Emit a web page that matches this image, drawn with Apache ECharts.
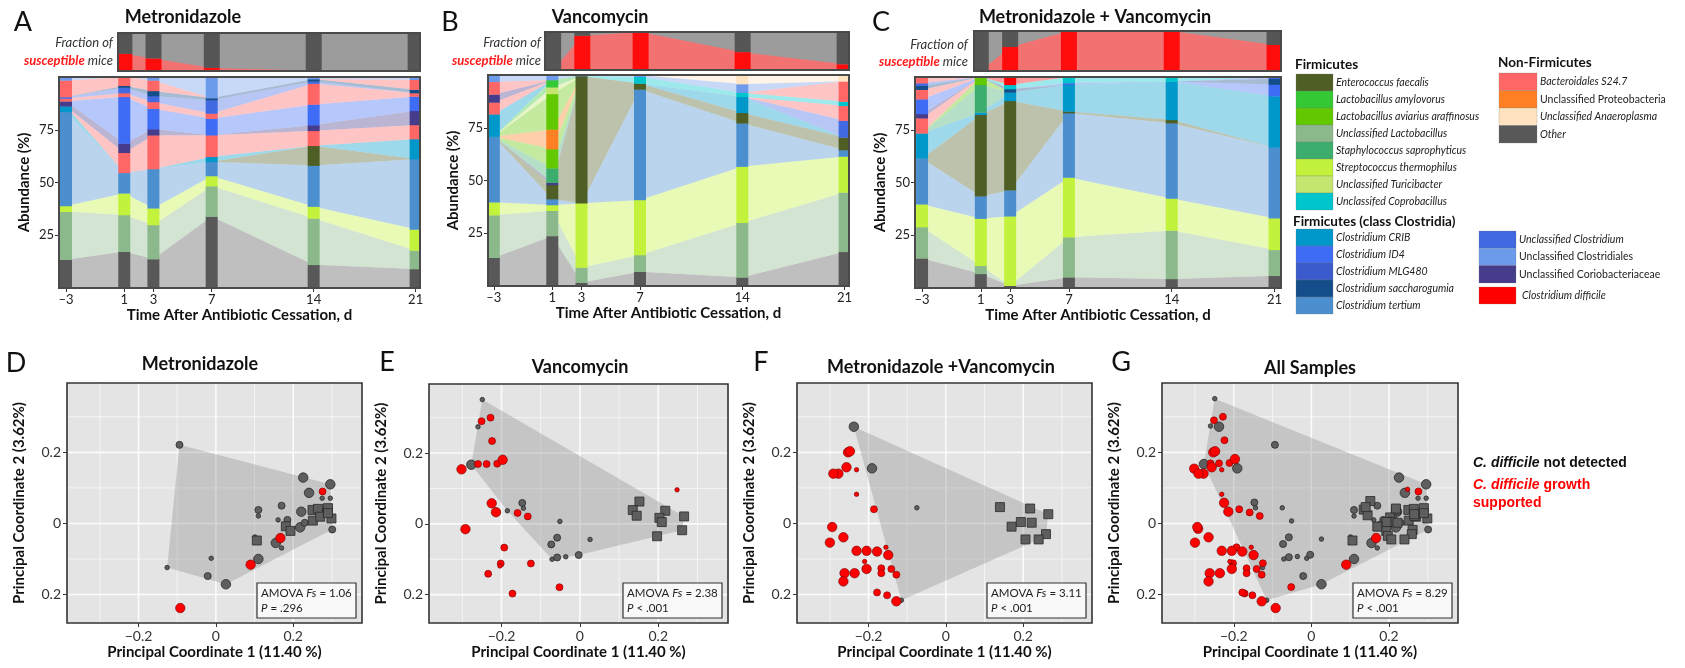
<!DOCTYPE html>
<html><head><meta charset="utf-8">
<script src="https://cdn.jsdelivr.net/npm/echarts@6/dist/echarts.min.js"></script>
<style>html,body{margin:0;padding:0;background:#fff}#c{width:1685px;height:668px}</style>
</head><body><div id="c"></div><script>
// ---------------- DATA ----------------
const days = [-3, 1, 3, 7, 14, 21];
const fracDays = [1, 3, 7, 14, 21];
const fracA = [0.45, 0.33, 0.08, 0.01, 0];
const fracB = [0, 0.9, 1.0, 0.47, 0.15];
const fracC = [0, 0.6, 1.0, 1.0, 0.65];

// Panel A (Metronidazole): layers bottom -> top, values at days
const layersA = ['Other','Unclassified Lactobacillus','Streptococcus thermophilus','Clostridium tertium','Enterococcus faecalis','Clostridium CRIB','Bacteroidales S24.7','Unclassified Coriobacteriaceae','Clostridium ID4','Bacteroidales S24.7#2','Unclassified Clostridium','Clostridium saccharogumia','Bacteroidales S24.7#3','Unclassified Clostridiales'];
const valuesA = [
  [13.4, 17.3, 13.7, 33.9, 11, 9],
  [22.8, 17.3, 16.2, 14.4, 22, 8.8],
  [2.7, 10.3, 7.9, 4.8, 5.6, 10],
  [44.6, 9.7, 18.6, 6.7, 19.4, 33.3],
  [0, 0, 0, 0, 9.4, 0],
  [2.6, 0, 0, 2.4, 0, 9.5],
  [0, 9.5, 16, 10.2, 7.1, 6.7],
  [2.4, 4.4, 2.9, 0, 2.7, 6.7],
  [0, 22.1, 9.7, 7.9, 9.8, 6.8],
  [1.3, 1.8, 3.2, 2.4, 9.9, 1.6],
  [0.7, 2.6, 2.8, 6.3, 1.1, 0],
  [0, 0.9, 2.4, 1.0, 1.0, 1.6],
  [7.9, 4.1, 5.0, 0, 0, 4.7],
  [1.6, 0, 1.6, 10, 1.0, 1.3]
];
// Panel B (Vancomycin)
const layersB = ['Other','Unclassified Lactobacillus','Streptococcus thermophilus','Clostridium tertium','Enterococcus faecalis','Unclassified Coriobacteriaceae','Staphylococcus saprophyticus','Lactobacillus aviarius araffinosus','Unclassified Proteobacteria','Lactobacillus aviarius araffinosus#2','Unclassified Turicibacter','Lactobacillus amylovorus','Clostridium CRIB','Unclassified Clostridium','Bacteroidales S24.7','Unclassified Coriobacteriaceae#2','Unclassified Coprobacillus','Bacteroidales S24.7#2','Unclassified Clostridiales','Unclassified Anaeroplasma'];
const valuesB = [
  [13.4, 23.7, 1.6, 6.8, 4.1, 16.2],
  [20.2, 12, 7.2, 7.9, 25.9, 28.2],
  [6.1, 2.7, 30.4, 26.1, 26.6, 17],
  [31.1, 2.8, 0, 52.4, 20.5, 3],
  [0, 6.7, 60.3, 2.8, 5, 6],
  [0, 1.1, 0, 0, 0, 0],
  [0, 6.8, 0, 0, 0, 0],
  [0, 9.1, 0, 0, 0, 0],
  [0, 9.3, 0, 0, 0, 0],
  [0, 16.8, 0, 0, 0, 0],
  [0, 3.2, 0, 0, 0, 0],
  [0, 3.4, 0, 0, 0, 0],
  [10.6, 0, 0, 0, 7.6, 0],
  [0, 0, 0, 0, 0, 8],
  [5.6, 0, 0, 0, 0, 7],
  [3.8, 0, 0, 0, 0, 0],
  [0, 0, 0, 3.2, 1.9, 2],
  [6, 0, 0, 0, 0, 9.6],
  [3.2, 2.4, 0.5, 0.8, 4.1, 0],
  [0, 0, 0, 0, 4.3, 3]
];
// Panel C (Metronidazole + Vancomycin)
const layersC = ['Other','Unclassified Lactobacillus','Streptococcus thermophilus','Clostridium tertium','Enterococcus faecalis','Clostridium CRIB','Staphylococcus saprophyticus','Lactobacillus aviarius araffinosus','Bacteroidales S24.7','Unclassified Coriobacteriaceae','Clostridium ID4','Bacteroidales S24.7#2','Clostridium saccharogumia','Unclassified Clostridium','Unclassified Coprobacillus','Bacteroidales S24.7#3','Clostridium difficile'];
const valuesC = [
  [14.1, 6.7, 1.1, 5.1, 4.3, 5.8],
  [14.8, 3.9, 0, 19, 23, 12.3],
  [10.8, 22.3, 32.9, 28.3, 15.1, 15],
  [21.7, 10.6, 12.3, 30.5, 35.7, 33.5],
  [0, 38.6, 42.4, 0.8, 1.6, 0],
  [11.9, 1.1, 4, 12.6, 18.2, 24.3],
  [0, 13.1, 0, 0, 0, 0],
  [0, 3.7, 0, 0, 0, 0],
  [7.2, 0, 0, 0, 0, 0],
  [2, 0, 0, 0, 0, 0],
  [7, 0, 0, 0, 0, 5.5],
  [4.5, 0, 0, 0, 0, 0],
  [1.9, 0, 1.6, 0, 0, 2.8],
  [1.2, 0, 0, 0.8, 0, 0.8],
  [0, 0, 2, 2.9, 2.1, 0],
  [2.9, 0, 0, 0, 0, 0],
  [0, 0, 3.7, 0, 0, 0]
];

// PCoA points: [PC1, PC2, sizeClass]
const dGray = [[-0.094,0.221,2],[0.226,0.129,3],[0.296,0.110,3],[0.241,0.086,3],[0.275,0.071,1],[0.296,0.071,1],[0.170,0.050,2],[0.110,0.038,2],[0.110,0.021,1],[0.221,0.033,3],[0.161,0.010,1],[0.185,0.010,2],[0.218,-0.011,3],[0.230,0.002,2],[0.251,0.038,2],[0.301,-0.017,2],[0.101,-0.038,1],[0.155,-0.055,3],[0.170,-0.069,1],[0.110,-0.100,3],[-0.012,-0.098,1],[-0.126,-0.124,1],[-0.021,-0.148,2],[0.026,-0.171,3],[0.267,0.038,2]];
const dSquare = [[0.106,-0.048],[0.181,-0.008],[0.193,-0.021],[0.250,0.038],[0.264,0.041],[0.290,0.043],[0.251,0.008],[0.270,0.019],[0.299,0.014],[0.290,0.029]];
const dRed = [[0.276,0.090,2],[0.167,-0.041,3],[0.090,-0.116,3],[-0.092,-0.238,3]];

const eGray = [[-0.249,0.351,1],[-0.260,0.274,1],[-0.277,0.167,3],[-0.147,0.059,2],[-0.144,0.044,1],[-0.185,0.037,1],[-0.051,0.007,1],[-0.058,-0.039,2],[-0.073,-0.058,2],[-0.071,-0.100,1],[-0.058,-0.095,2],[-0.036,-0.093,1],[-0.003,-0.088,2],[0.026,-0.044,1]];
const eSquare = [[0.152,0.063],[0.135,0.039],[0.145,0.023],[0.218,0.037],[0.203,0.017],[0.209,0.005],[0.266,0.021],[0.261,-0.018],[0.197,-0.035]];
const eRed = [[-0.251,0.290,2],[-0.228,0.300,2],[-0.224,0.234,2],[-0.302,0.154,3],[-0.260,0.169,2],[-0.238,0.169,2],[-0.211,0.170,2],[-0.197,0.181,3],[-0.225,0.058,3],[-0.214,0.033,3],[-0.159,0.031,2],[-0.133,0.021,2],[-0.292,-0.015,3],[-0.193,-0.067,2],[-0.202,-0.112,2],[-0.204,-0.119,1],[-0.125,-0.112,2],[-0.234,-0.141,2],[-0.172,-0.197,2],[-0.052,-0.179,2],[0.248,0.096,1]];

const fGray = [[-0.238,0.272,3],[-0.191,0.155,3],[-0.075,0.044,1],[-0.115,-0.216,1]];
const fSquare = [[0.140,0.046],[0.218,0.042],[0.265,0.026],[0.194,0.004],[0.222,0.002],[0.170,-0.009],[0.259,-0.030],[0.206,-0.045],[0.240,-0.045]];
const fRed = [[-0.253,0.200,3],[-0.248,0.203,3],[-0.257,0.158,3],[-0.231,0.151,1],[-0.278,0.140,3],[-0.231,0.082,1],[-0.186,0.040,2],[-0.265,-0.039,3],[-0.231,-0.077,3],[-0.205,-0.077,3],[-0.178,-0.079,3],[-0.149,-0.089,3],[-0.155,-0.067,1],[-0.210,-0.107,1],[-0.205,-0.128,3],[-0.236,-0.140,3],[-0.262,-0.140,3],[-0.167,-0.126,2],[-0.167,-0.140,2],[-0.141,-0.128,2],[-0.128,-0.144,2],[-0.265,-0.163,3],[-0.178,-0.194,2],[-0.152,-0.202,2],[-0.128,-0.219,3],[-0.291,0.140,3],[-0.294,-0.010,3],[-0.300,-0.054,3]];

const amovaFs = ['1.06', '2.38', '3.11', '8.29'];
const amovaP = ['= .296', '< .001', '< .001', '< .001'];

// ---------------- STYLE ----------------
const taxonColors = {
  'Other': '#585858',
  'Unclassified Lactobacillus': '#8cb98c',
  'Streptococcus thermophilus': '#c3f23c',
  'Unclassified Turicibacter': '#c4e570',
  'Clostridium tertium': '#4b8fcf',
  'Enterococcus faecalis': '#4e5e25',
  'Clostridium CRIB': '#0098cb',
  'Bacteroidales S24.7': '#ff6666',
  'Unclassified Coriobacteriaceae': '#463c8c',
  'Clostridium ID4': '#3f6cf5',
  'Unclassified Clostridium': '#4169e1',
  'Clostridium saccharogumia': '#134e8a',
  'Unclassified Clostridiales': '#6b9bea',
  'Staphylococcus saprophyticus': '#3cad6d',
  'Lactobacillus aviarius araffinosus': '#62c800',
  'Lactobacillus amylovorus': '#34c934',
  'Unclassified Proteobacteria': '#ff8024',
  'Unclassified Coprobacillus': '#00c5cc',
  'Unclassified Anaeroplasma': '#ffe2c0',
  'Clostridium MLG480': '#3b5bcc',
  'Clostridium difficile': '#ff0000'
};
const FONT = 'Lato, "Open Sans", sans-serif';
const ARIAL = '"Liberation Sans", Arial, sans-serif';

const mainRects = [{left:59, top:77, width:361, height:211},{left:488, top:75, width:361, height:211},{left:915, top:77, width:366, height:211}];
const mainXr = [[-3.48, 21.3],[-3.4, 21.3],[-3.48, 21.44]];
const topRects = [{left:118, top:33, width:302, height:38},{left:545, top:32, width:304, height:38},{left:974, top:31, width:307, height:40}];
const topXr = [[0.56, 21.3],[0.44, 21.3],[0.54, 21.44]];
const pcoaRects = [{left:67, top:383, width:295, height:240},{left:429, top:384, width:299, height:239},{left:797, top:383, width:295, height:240},{left:1162, top:383, width:296, height:240}];
const pcX = [-0.385, 0.378], pcY = [-0.28, 0.395];
const sizeMap = {1: 4.5, 2: 7, 3: 9.5};
const COLW = 12, TOPW = 16;

const grids = [], xAxes = [], yAxes = [], series = [], graphics = [];

function frame(r, color, lw) {
  return {type:'rect', silent:true, z:100, shape:{x:r.left, y:r.top, width:r.width, height:r.height}, style:{fill:'none', stroke:color, lineWidth:lw}};
}
function txt(x, y, text, font, fill, align, extra) {
  return {type:'text', x:x, y:y, silent:true, z:110, style:Object.assign({text:text, font:font, fill:fill||'#111', align:align||'left', textAlign:align||'left', verticalAlign:'middle', textVerticalAlign:'middle'}, extra||{})};
}
function cumulate(values) {
  const lo = [], hi = [];
  const run = days.map(() => 0);
  values.forEach(row => { lo.push(run.slice()); row.forEach((v, di) => { run[di] += v; }); hi.push(run.slice()); });
  return {lo, hi};
}

function addMain(layers, values, r, xr) {
  const gi = grids.length;
  grids.push(Object.assign({show:true, backgroundColor:'#fff', borderWidth:0}, r));
  xAxes.push({gridIndex:gi, type:'value', min:xr[0], max:xr[1], axisLine:{show:false, onZero:false}, splitLine:{show:false},
    axisTick:{show:true, customValues:days, length:4, lineStyle:{color:'#333'}},
    axisLabel:{customValues:days, formatter:v => v < 0 ? '\u2013' + (-v) : String(v), fontFamily:FONT, fontSize:13, color:'#222', margin:5},
    name:'Time After Antibiotic Cessation, d', nameLocation:'middle', nameGap:20,
    nameTextStyle:{fontFamily:FONT, fontWeight:'bold', fontSize:15, color:'#111', verticalAlign:'top'}});
  yAxes.push({gridIndex:gi, type:'value', min:0, max:100, interval:25, axisLine:{show:false, onZero:false}, splitLine:{show:false},
    axisTick:{show:true, customValues:[25,50,75], length:4, lineStyle:{color:'#333'}},
    axisLabel:{customValues:[25,50,75], fontFamily:FONT, fontSize:13, color:'#222', margin:5},
    name:'Abundance (%)', nameLocation:'middle', nameGap:27,
    nameTextStyle:{fontFamily:FONT, fontWeight:'bold', fontSize:15, color:'#111'}});
  const cum = cumulate(values);
  const colorOf = li => taxonColors[layers[li].split('#')[0]];
  // translucent flows between sampling days
  series.push({type:'custom', xAxisIndex:gi, yAxisIndex:gi, z:2, silent:true, clip:true,
    data: layers.map((n, li) => [days[0], 0, li]), encode:{x:0, y:1},
    renderItem:(params, api) => {
      const li = api.value(2);
      const top = days.map((d, di) => api.coord([d, cum.hi[li][di]]));
      const bot = days.map((d, di) => api.coord([d, cum.lo[li][di]])).reverse();
      return {type:'polygon', shape:{points: top.concat(bot)}, style:{fill: colorOf(li), opacity: 0.38}};
    }});
  // solid stacked columns at each sampling day
  const cols = [];
  layers.forEach((n, li) => days.forEach((d, di) => { if (values[li][di] > 0) cols.push([d, cum.lo[li][di], cum.hi[li][di], li]); }));
  series.push({type:'custom', xAxisIndex:gi, yAxisIndex:gi, z:3, silent:true, clip:true, data:cols, encode:{x:0, y:[1,2]},
    renderItem:(params, api) => {
      const a = api.coord([api.value(0), api.value(2)]);
      const b = api.coord([api.value(0), api.value(1)]);
      return {type:'rect', shape:{x:a[0] - COLW/2, y:a[1], width:COLW, height:b[1] - a[1] + 0.3}, style:{fill: colorOf(api.value(3))}};
    }});
  graphics.push(frame(r, '#4a4a4a', 2));
}

function addTop(fr, r, xr) {
  const gi = grids.length;
  grids.push(Object.assign({show:true, backgroundColor:'#9c9c9c', borderWidth:0}, r));
  xAxes.push({gridIndex:gi, type:'value', min:xr[0], max:xr[1], show:false, axisLine:{onZero:false}});
  yAxes.push({gridIndex:gi, type:'value', min:0, max:1, show:false, axisLine:{onZero:false}});
  series.push({type:'custom', xAxisIndex:gi, yAxisIndex:gi, z:2, silent:true, clip:true, data:[[fracDays[0], 0]],
    renderItem:(params, api) => {
      const top = fracDays.map((d, i) => api.coord([d, fr[i]]));
      const bot = fracDays.map(d => api.coord([d, 0])).reverse();
      return {type:'polygon', shape:{points: top.concat(bot)}, style:{fill:'#f27272'}};
    }});
  series.push({type:'custom', xAxisIndex:gi, yAxisIndex:gi, z:3, silent:true, clip:true,
    data: fracDays.map((d, i) => [d, fr[i]]), encode:{x:0, y:1},
    renderItem:(params, api) => {
      const d = api.value(0), f = api.value(1);
      const p0 = api.coord([d, 0]), pf = api.coord([d, f]), p1 = api.coord([d, 1]);
      return {type:'group', children:[
        {type:'rect', shape:{x:p0[0] - TOPW/2, y:pf[1], width:TOPW, height:p0[1] - pf[1]}, style:{fill:'#ff0d0d'}},
        {type:'rect', shape:{x:p0[0] - TOPW/2, y:p1[1], width:TOPW, height:pf[1] - p1[1]}, style:{fill:'#565656'}}
      ]};
    }});
  graphics.push(frame(r, '#4a4a4a', 2));
}

function convexHull(pts) {
  const p = pts.map(a => [a[0], a[1]]).sort((a, b) => a[0] - b[0] || a[1] - b[1]);
  const cross = (o, a, b) => (a[0]-o[0])*(b[1]-o[1]) - (a[1]-o[1])*(b[0]-o[0]);
  const lower = [];
  for (const q of p) { while (lower.length >= 2 && cross(lower[lower.length-2], lower[lower.length-1], q) <= 0) lower.pop(); lower.push(q); }
  const upper = [];
  for (let i = p.length - 1; i >= 0; i--) { const q = p[i]; while (upper.length >= 2 && cross(upper[upper.length-2], upper[upper.length-1], q) <= 0) upper.pop(); upper.push(q); }
  upper.pop(); lower.pop();
  return lower.concat(upper);
}

const gridLineDefs = [];
[-0.3,-0.2,-0.1,0,0.1,0.2,0.3].forEach(v => gridLineDefs.push([v, 1, Math.abs(Math.round(v*10)) % 2 === 0 ? 1 : 0]));
[-0.2,-0.1,0,0.1,0.2,0.3].forEach(v => gridLineDefs.push([v, 0, Math.abs(Math.round(v*10)) % 2 === 0 ? 1 : 0]));

function addPcoa(gray, red, squares, r, idx) {
  const gi = grids.length;
  grids.push(Object.assign({show:true, backgroundColor:'#e4e4e4', borderWidth:0}, r));
  xAxes.push({gridIndex:gi, type:'value', min:pcX[0], max:pcX[1], axisLine:{show:false, onZero:false}, splitLine:{show:false},
    axisTick:{show:true, customValues:[-0.2,0,0.2], length:4, lineStyle:{color:'#333'}},
    axisLabel:{customValues:[-0.2,0,0.2], formatter:v => v === 0 ? '0' : (v < 0 ? '\u2212' : '') + Math.abs(v).toFixed(1), fontFamily:FONT, fontSize:14, color:'#333', margin:6},
    name:'Principal Coordinate 1 (11.40 %)', nameLocation:'middle', nameGap:22,
    nameTextStyle:{fontFamily:FONT, fontWeight:'bold', fontSize:15, color:'#111', verticalAlign:'top'}});
  yAxes.push({gridIndex:gi, type:'value', min:pcY[0], max:pcY[1], axisLine:{show:false, onZero:false}, splitLine:{show:false},
    axisTick:{show:true, customValues:[-0.2,0,0.2], length:4, lineStyle:{color:'#333'}},
    axisLabel:{customValues:[-0.2,0,0.2], formatter:v => v === 0 ? '0' : Math.abs(v).toFixed(1), fontFamily:FONT, fontSize:14, color:'#333', margin:6},
    name:'Principal Coordinate 2 (3.62%)', nameLocation:'middle', nameGap:40,
    nameTextStyle:{fontFamily:FONT, fontWeight:'bold', fontSize:15, color:'#111'}});
  series.push({type:'custom', xAxisIndex:gi, yAxisIndex:gi, z:1, silent:true, data:gridLineDefs,
    encode:{x:0, y:-1},
    renderItem:(params, api) => {
      const v = api.value(0), vert = api.value(1), major = api.value(2);
      const a = vert ? api.coord([v, pcY[0]]) : api.coord([pcX[0], v]);
      const b = vert ? api.coord([v, pcY[1]]) : api.coord([pcX[1], v]);
      return {type:'line', shape:{x1:a[0], y1:a[1], x2:b[0], y2:b[1]}, style:{stroke:'#fbfbfb', lineWidth: major ? 1.6 : 0.7}};
    }});
  const hull = convexHull(gray.concat(squares));
  series.push({type:'custom', xAxisIndex:gi, yAxisIndex:gi, z:2, silent:true, data:[[0, 0]],
    renderItem:(params, api) => ({type:'polygon', shape:{points: hull.map(h => api.coord(h))}, style:{fill:'rgba(135,135,135,0.33)'}})});
  series.push({type:'scatter', xAxisIndex:gi, yAxisIndex:gi, z:3, silent:true, data:gray, symbolSize:v => sizeMap[v[2]],
    itemStyle:{color:'#5e5e5e', borderColor:'#2a2a2a', borderWidth:0.8, opacity:1}});
  series.push({type:'scatter', xAxisIndex:gi, yAxisIndex:gi, z:4, silent:true, data:squares, symbol:'rect', symbolSize:9,
    itemStyle:{color:'#5e5e5e', borderColor:'#2a2a2a', borderWidth:0.8, opacity:1}});
  series.push({type:'scatter', xAxisIndex:gi, yAxisIndex:gi, z:5, silent:true, data:red, symbolSize:v => sizeMap[v[2]],
    itemStyle:{color:'#ff0000', borderColor:'#6e0000', borderWidth:0.6, opacity:1}});
  graphics.push(frame(r, '#333', 1.6));
  // AMOVA box
  const bx = r.left + r.width - 105, by = r.top + r.height - 40;
  graphics.push({type:'rect', silent:true, z:105, shape:{x:bx, y:by, width:99, height:35}, style:{fill:'#f9f9f9', stroke:'#333', lineWidth:1.2}});
  graphics.push({type:'text', silent:true, z:110, x:bx + 4, y:by + 10, style:{text:'{n|AMOVA }{i|Fs}{n| = ' + amovaFs[idx] + '}', verticalAlign:'middle', textVerticalAlign:'middle',
    rich:{n:{font:'11.5px ' + FONT, fill:'#222'}, i:{font:'italic 11.5px ' + FONT, fill:'#222'}}}});
  graphics.push({type:'text', silent:true, z:110, x:bx + 4, y:by + 25, style:{text:'{i|P}{n| ' + amovaP[idx] + '}', verticalAlign:'middle', textVerticalAlign:'middle',
    rich:{n:{font:'11.5px ' + FONT, fill:'#222'}, i:{font:'italic 11.5px ' + FONT, fill:'#222'}}}});
}

addMain(layersA, valuesA, mainRects[0], mainXr[0]);
addMain(layersB, valuesB, mainRects[1], mainXr[1]);
addMain(layersC, valuesC, mainRects[2], mainXr[2]);
addTop(fracA, topRects[0], topXr[0]);
addTop(fracB, topRects[1], topXr[1]);
addTop(fracC, topRects[2], topXr[2]);
addPcoa(dGray, dRed, dSquare, pcoaRects[0], 0);
addPcoa(eGray, eRed, eSquare, pcoaRects[1], 1);
addPcoa(fGray, fRed, fSquare, pcoaRects[2], 2);
addPcoa(dGray.concat(eGray, fGray), dRed.concat(eRed, fRed), dSquare.concat(eSquare, fSquare), pcoaRects[3], 3);

// Titles & letters
const titleFont = 'bold 18px ' + FONT;
graphics.push(txt(183, 17, 'Metronidazole', titleFont, '#111', 'center'));
graphics.push(txt(600, 17, 'Vancomycin', titleFont, '#111', 'center'));
graphics.push(txt(1095, 17, 'Metronidazole + Vancomycin', titleFont, '#111', 'center'));
graphics.push(txt(200, 364, 'Metronidazole', titleFont, '#111', 'center'));
graphics.push(txt(580, 367, 'Vancomycin', titleFont, '#111', 'center'));
graphics.push(txt(941, 367, 'Metronidazole +Vancomycin', titleFont, '#111', 'center'));
graphics.push(txt(1310, 368, 'All Samples', titleFont, '#111', 'center'));
const letterFont = '27px ' + FONT;
[['A',23,22],['B',450,22],['C',881,22],['D',16,363],['E',387,362],['F',761,362],['G',1121,362]].forEach(l => graphics.push(txt(l[1], l[2], l[0], letterFont, '#111', 'center')));

// Fraction of susceptible mice labels
[[113,43,61],[541,43,61],[968,45,62]].forEach(p => {
  graphics.push(txt(p[0], p[1], 'Fraction of', 'italic 13px ' + FONT, '#333', 'right'));
  graphics.push({type:'text', silent:true, z:110, x:p[0], y:p[2], style:{text:'{r|susceptible}{g| mice}', align:'right', textAlign:'right', verticalAlign:'middle', textVerticalAlign:'middle',
    rich:{r:{font:'italic bold 13px ' + FONT, fill:'#ff1a1a'}, g:{font:'italic 13px ' + FONT, fill:'#333'}}}});
});

// Legend for taxa
const legFirm = [['Enterococcus faecalis','Enterococcus faecalis',1],['Lactobacillus amylovorus','Lactobacillus amylovorus',1],['Lactobacillus aviarius araffinosus','Lactobacillus aviarius araffinosus',1],['Unclassified Lactobacillus','Unclassified Lactobacillus',1],['Staphylococcus saprophyticus','Staphylococcus saprophyticus',1],['Streptococcus thermophilus','Streptococcus thermophilus',1],['Unclassified Turicibacter','Unclassified Turicibacter',1],['Unclassifed Coprobacillus','Unclassified Coprobacillus',1]];
const legClos = [['Clostridium CRIB','Clostridium CRIB',1],['Clostridium ID4','Clostridium ID4',1],['Clostridium MLG480','Clostridium MLG480',1],['Clostridium saccharogumia','Clostridium saccharogumia',1],['Clostridium tertium','Clostridium tertium',1]];
const legClos2 = [['Unclassified Clostridium','Unclassified Clostridium',1],['Unclassified Clostridiales','Unclassified Clostridiales',0],['Unclassified Coriobacteriaceae','Unclassified Coriobacteriaceae',0]];
const legNon = [['Bacteroidales S24.7','Bacteroidales S24.7',1],['Unclassified Proteobacteria','Unclassified Proteobacteria',0],['Unclassified Anaeroplasma','Unclassified Anaeroplasma',1],['Other','Other',1]];
function legendBlock(x, y, items, w, h, labelDx) {
  items.forEach((it, i) => {
    graphics.push({type:'rect', silent:true, z:100, shape:{x:x, y:y + i*h, width:w, height:h}, style:{fill:taxonColors[it[1]], stroke:'rgba(120,120,120,0.5)', lineWidth:0.5}});
    graphics.push(txt(x + w + (labelDx || 3), y + i*h + h/2, it[0], (it[2] ? 'italic ' : '') + '10.5px ' + FONT, '#222', 'left'));
  });
}
const headFont = 'bold 13.5px ' + FONT;
graphics.push(txt(1295, 65, 'Firmicutes', headFont, '#111', 'left'));
legendBlock(1296, 74, legFirm, 37, 17);
graphics.push(txt(1293, 222, 'Firmicutes (class Clostridia)', headFont, '#111', 'left'));
legendBlock(1296, 229, legClos, 37, 17);
legendBlock(1479, 231, legClos2, 37, 17.3);
legendBlock(1479, 287, [['Clostridium difficile','Clostridium difficile',1]], 37, 17, 6);
graphics.push(txt(1498, 63, 'Non-Firmicutes', headFont, '#111', 'left'));
legendBlock(1499, 73, legNon, 38, 17.5);

// C. difficile legend
graphics.push({type:'text', silent:true, z:110, x:1473, y:463, style:{text:'{i|C. difficile}{b| not detected}', verticalAlign:'middle', textVerticalAlign:'middle',
  rich:{i:{font:'italic bold 14px ' + ARIAL, fill:'#111'}, b:{font:'bold 14px ' + ARIAL, fill:'#111'}}}});
graphics.push({type:'text', silent:true, z:110, x:1473, y:485, style:{text:'{i|C. difficile}{b| growth}', verticalAlign:'middle', textVerticalAlign:'middle',
  rich:{i:{font:'italic bold 14px ' + ARIAL, fill:'#ff0000'}, b:{font:'bold 14px ' + ARIAL, fill:'#ff0000'}}}});
graphics.push(txt(1473, 503, 'supported', 'bold 14px ' + ARIAL, '#ff0000', 'left'));

const chart = echarts.init(document.getElementById('c'), null, {renderer:'canvas'});
chart.setOption({
  animation:false,
  grid:grids, xAxis:xAxes, yAxis:yAxes, series:series,
  graphic:{elements:graphics}
});
</script></body></html>
